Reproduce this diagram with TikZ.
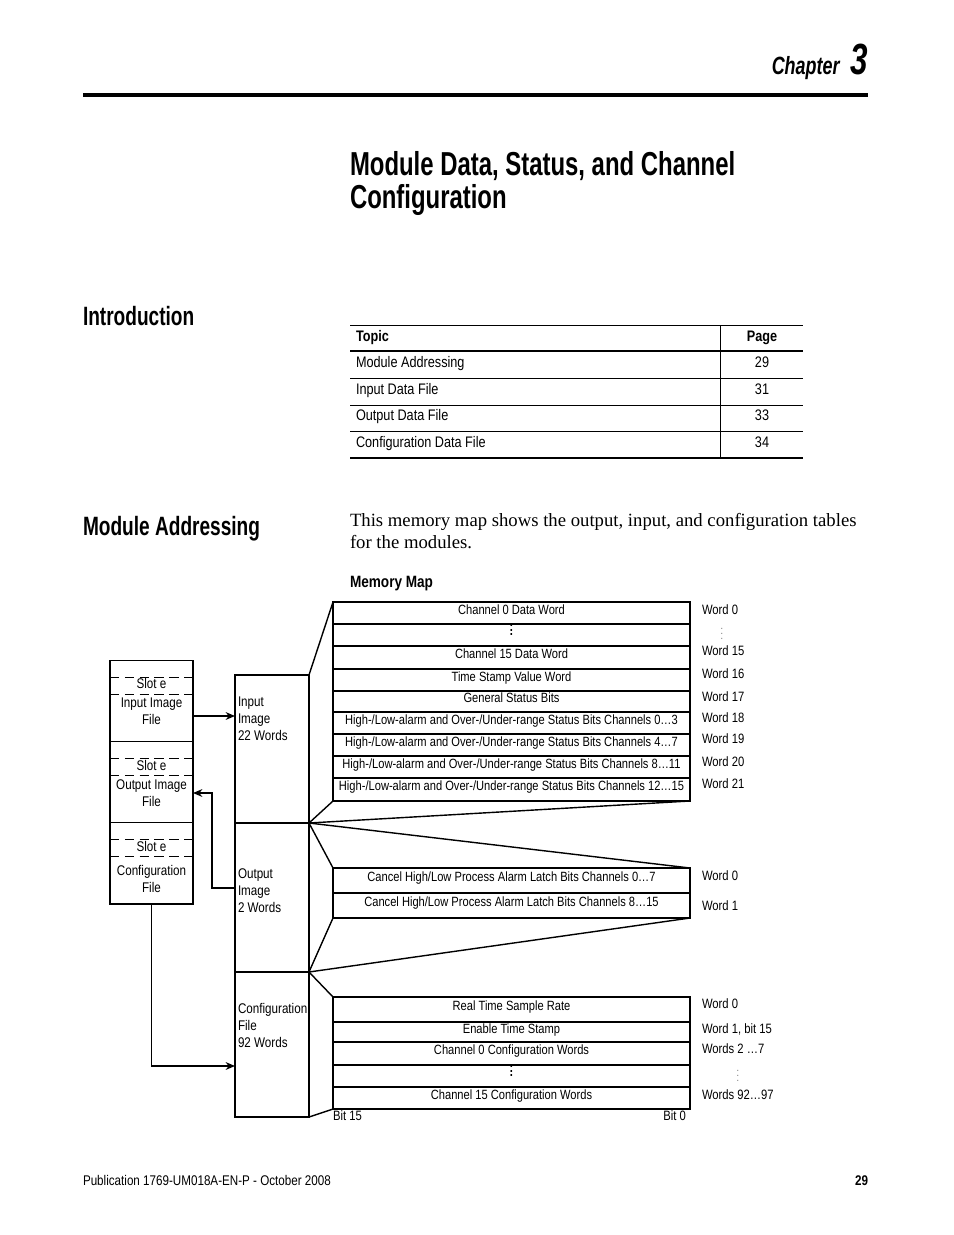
\documentclass[tikz,border=0pt]{standalone}
\usepackage{fontspec}
\setmainfont{Liberation Serif}
\newfontfamily\condf[FakeStretch=0.83]{Liberation Sans}
\newfontfamily\headf[FakeStretch=0.72]{Liberation Sans}
\usetikzlibrary{positioning, arrows.meta}
\newcommand\pxu{0.6415pt}
\newcommand\vdts{\vbox{\baselineskip2.9pt\lineskiplimit0pt\hbox{.}\hbox{.}\hbox{.}}}

\begin{document}
\begin{tikzpicture}[
  x=\pxu, y=-\pxu,
  every node/.style={inner sep=0pt, outer sep=0pt},
  head/.style={anchor=base west, font=\headf\bfseries\fontsize{17}{20}\selectfont},
  tabtext/.style={font=\condf\fontsize{9.8}{12}\selectfont},
  tabrule/.style={line width=0.5pt},
  tabthick/.style={line width=1.3pt},
  slotbox/.style={draw, line width=0.8pt, minimum width=83*\pxu},
  imgbox/.style={draw, line width=0.8pt, minimum width=74*\pxu},
  cell/.style={draw, line width=0.7pt, minimum width=357*\pxu,
    text height=6pt, text depth=4.5pt, font=\condf\fontsize{8.6}{10}\selectfont},
  dotcell/.style={cell, text height=5pt, text depth=4pt, font=\condf\bfseries\fontsize{8.6}{10}\selectfont},
  boxlbl/.style={font=\condf\fontsize{9}{10.9}\selectfont},
  wordlbl/.style={anchor=base west, font=\condf\fontsize{8.7}{10}\selectfont},
  rdots/.style={anchor=base, text=black!55, font=\condf\fontsize{7}{8}\selectfont},
  slotline/.style={line width=0.6pt, dash pattern=on 6pt off 3.5pt},
  fan/.style={line width=0.9pt},
  link/.style={line width=0.8pt, -{Stealth[length=6pt, width=5pt]}},
]
\useasboundingbox[fill=white] (0,0) rectangle (954,1235);

% Chapter header
\node[anchor=base east] (chap) at (868,74)
  {\headf\bfseries\itshape\fontsize{16}{16}\selectfont Chapter\hspace{7pt}\fontsize{28}{28}\selectfont 3};
\draw[line width=2pt] (83,95) -- (868,95);

\node[anchor=base west, font=\headf\bfseries\fontsize{21.3}{24}\selectfont] (title1) at (350,175)
  {Module Data, Status, and Channel};
\node[anchor=base west, font=\headf\bfseries\fontsize{21.3}{24}\selectfont] (title2) at (350,208)
  {Configuration};

% Introduction
\node[head] (intro) at (83,325) {Introduction};

\draw[tabrule] (350,325) -- (803,325);
\draw[tabthick] (350,351) -- (803,351);
\draw[tabrule] (350,378) -- (803,378);
\draw[tabrule] (350,405) -- (803,405);
\draw[tabrule] (350,431) -- (803,431);
\draw[tabthick] (350,458) -- (803,458);
\draw[tabrule] (720,325) -- (720,458);

\node[tabtext, anchor=base west, font=\condf\bfseries\fontsize{9.8}{12}\selectfont] (tphead) at (356,341) {Topic};
\node[tabtext, anchor=base, font=\condf\bfseries\fontsize{9.8}{12}\selectfont] (pghead) at (762,341) {Page};
\node[tabtext, anchor=base west] (tp1) at (356,367) {Module Addressing};
\node[tabtext, anchor=base west] (tp2) at (356,394) {Input Data File};
\node[tabtext, anchor=base west] (tp3) at (356,420) {Output Data File};
\node[tabtext, anchor=base west] (tp4) at (356,447) {Configuration Data File};
\node[tabtext, anchor=base] (pg1) at (762,367) {29};
\node[tabtext, anchor=base] (pg2) at (762,394) {31};
\node[tabtext, anchor=base] (pg3) at (762,420) {33};
\node[tabtext, anchor=base] (pg4) at (762,447) {34};

% Module Addressing
\node[head] (modaddr) at (83,535) {Module Addressing};
\node[anchor=base west, align=left, font=\fontsize{12}{13.5}\selectfont] (para) at (350,548)
  {This memory map shows the output, input, and configuration tables\\for the modules.};
\node[anchor=base west, font=\condf\bfseries\fontsize{10.5}{12}\selectfont] (mmap) at (350,587) {Memory Map};

% Slot boxes
\node[slotbox, minimum height=81*\pxu] (slotin) at (151.5,701.2) {};
\node[slotbox, minimum height=81*\pxu] (slotout) at (151.5,782.2) {};
\node[slotbox, minimum height=81.3*\pxu] (slotcfg) at (151.5,863.3) {};
\draw[slotline] (110,677) -- (193,677);
\draw[slotline] (110,694) -- (193,694);
\draw[slotline] (110,758) -- (193,758);
\draw[slotline] (110,775) -- (193,775);
\draw[slotline] (110,839) -- (193,839);
\draw[slotline] (110,856) -- (193,856);
\node[boxlbl, anchor=base] (slotinid) at (151.5,688) {Slot e};
\node[boxlbl, anchor=base, align=center] (slotinlbl) at (151.5,724) {Input Image\\File};
\node[boxlbl, anchor=base] (slotoutid) at (151.5,770) {Slot e};
\node[boxlbl, anchor=base, align=center] (slotoutlbl) at (151.5,806) {Output Image\\File};
\node[boxlbl, anchor=base] (slotcfgid) at (151.5,851) {Slot e};
\node[boxlbl, anchor=base, align=center] (slotcfglbl) at (151.5,892) {Configuration\\File};

% Image files
\node[imgbox, minimum height=148*\pxu] (inimg) at (272,749) {};
\node[imgbox, minimum height=149*\pxu] (outimg) at (272,897.5) {};
\node[imgbox, minimum height=145*\pxu] (cfgimg) at (272,1044.5) {};
\node[boxlbl, anchor=base west, align=left] (inimglbl) at (238,740.5) {Input\\Image\\22 Words};
\node[boxlbl, anchor=base west, align=left] (outimglbl) at (238,912.5) {Output\\Image\\2 Words};
\node[boxlbl, anchor=base west, align=left] (cfgimglbl) at (238,1047.5) {Configuration\\File\\92 Words};

% Input words
\node[cell, minimum height=22*\pxu] (i1) at (511.5,613) {Channel 0 Data Word};
\node[dotcell, minimum height=22*\pxu] (i2) at (511.5,635) {\vdts};
\node[cell, minimum height=23*\pxu] (i3) at (511.5,657.5) {Channel 15 Data Word};
\node[cell, minimum height=22*\pxu] (i4) at (511.5,680) {Time Stamp Value Word};
\node[cell, minimum height=21*\pxu] (i5) at (511.5,701.5) {General Status Bits};
\node[cell, minimum height=22*\pxu] (i6) at (511.5,723) {High-/Low-alarm and Over-/Under-range Status Bits Channels 0…3};
\node[cell, minimum height=22*\pxu] (i7) at (511.5,745) {High-/Low-alarm and Over-/Under-range Status Bits Channels 4…7};
\node[cell, minimum height=22*\pxu] (i8) at (511.5,767) {High-/Low-alarm and Over-/Under-range Status Bits Channels 8…11};
\node[cell, minimum height=23*\pxu] (i9) at (511.5,789.5) {High-/Low-alarm and Over-/Under-range Status Bits Channels 12…15};

\node[wordlbl] (wi0) at (702,614.5) {Word 0};
\node[rdots] (widots) at (722,639) {\vdts};
\node[wordlbl] (wi15) at (702,655.5) {Word 15};
\node[wordlbl] (wi16) at (702,678.5) {Word 16};
\node[wordlbl] (wi17) at (702,701.5) {Word 17};
\node[wordlbl] (wi18) at (702,722.5) {Word 18};
\node[wordlbl] (wi19) at (702,743.5) {Word 19};
\node[wordlbl] (wi20) at (702,766.5) {Word 20};
\node[wordlbl] (wi21) at (702,788.5) {Word 21};

% Output words
\node[cell, minimum height=25*\pxu] (o1) at (511.5,880.5) {Cancel High/Low Process Alarm Latch Bits Channels 0…7};
\node[cell, minimum height=25*\pxu] (o2) at (511.5,905.5) {Cancel High/Low Process Alarm Latch Bits Channels 8…15};
\node[wordlbl] (wo0) at (702,880.5) {Word 0};
\node[wordlbl] (wo1) at (702,910.5) {Word 1};

% Configuration words
\node[cell, minimum height=25*\pxu] (c1) at (511.5,1009.5) {Real Time Sample Rate};
\node[cell, minimum height=20*\pxu] (c2) at (511.5,1032) {Enable Time Stamp};
\node[cell, minimum height=23*\pxu] (c3) at (511.5,1053.5) {Channel 0 Configuration Words};
\node[dotcell, minimum height=22*\pxu] (c4) at (511.5,1076) {\vdts};
\node[cell, minimum height=22*\pxu] (c5) at (511.5,1098) {Channel 15 Configuration Words};
\node[wordlbl] (wc0) at (702,1008.5) {Word 0};
\node[wordlbl] (wc1) at (702,1033.5) {Word 1, bit 15};
\node[wordlbl] (wc2) at (702,1053.5) {Words 2 …7};
\node[rdots] (wcdots) at (738,1081) {\vdts};
\node[wordlbl] (wc92) at (702,1099.5) {Words 92…97};
\node[wordlbl] (bit15) at (333,1120) {Bit 15};
\node[wordlbl, anchor=base east] (bit0) at (686,1120) {Bit 0};

% Fan lines
\draw[fan] (inimg.north east) -- (i1.north west);
\draw[fan] (inimg.south east) -- (i9.south west);
\draw[fan] (inimg.south east) -- (i9.south east);
\draw[fan] (outimg.north east) -- (o1.north west);
\draw[fan] (outimg.north east) -- (o1.north east);
\draw[fan] (o2.south west) -- (outimg.south east);
\draw[fan] (o2.south east) -- (outimg.south east);
\draw[fan] (cfgimg.north east) -- (c1.north west);
\draw[fan] (cfgimg.south east) -- (c5.south west);

% Links
\coordinate (inlink) at (193,716);
\coordinate (outsrc) at (235,888);
\coordinate (outturn) at (212,793);
\coordinate (cfgturn) at (152,1066);
\draw[link] (inlink) -- (inlink -| inimg.west);
\draw[link] (outsrc) -| (outturn) -- (outturn -| slotout.east);
\draw[link] (slotcfg.south) |- (cfgturn -| cfgimg.west);

% Footer
\node[anchor=base west, font=\condf\fontsize{9}{11}\selectfont] (pub) at (83,1185)
  {Publication 1769-UM018A-EN-P - October 2008};
\node[anchor=base east, font=\condf\bfseries\fontsize{9}{11}\selectfont] (pgno) at (868,1185) {29};

\end{tikzpicture}
\end{document}
